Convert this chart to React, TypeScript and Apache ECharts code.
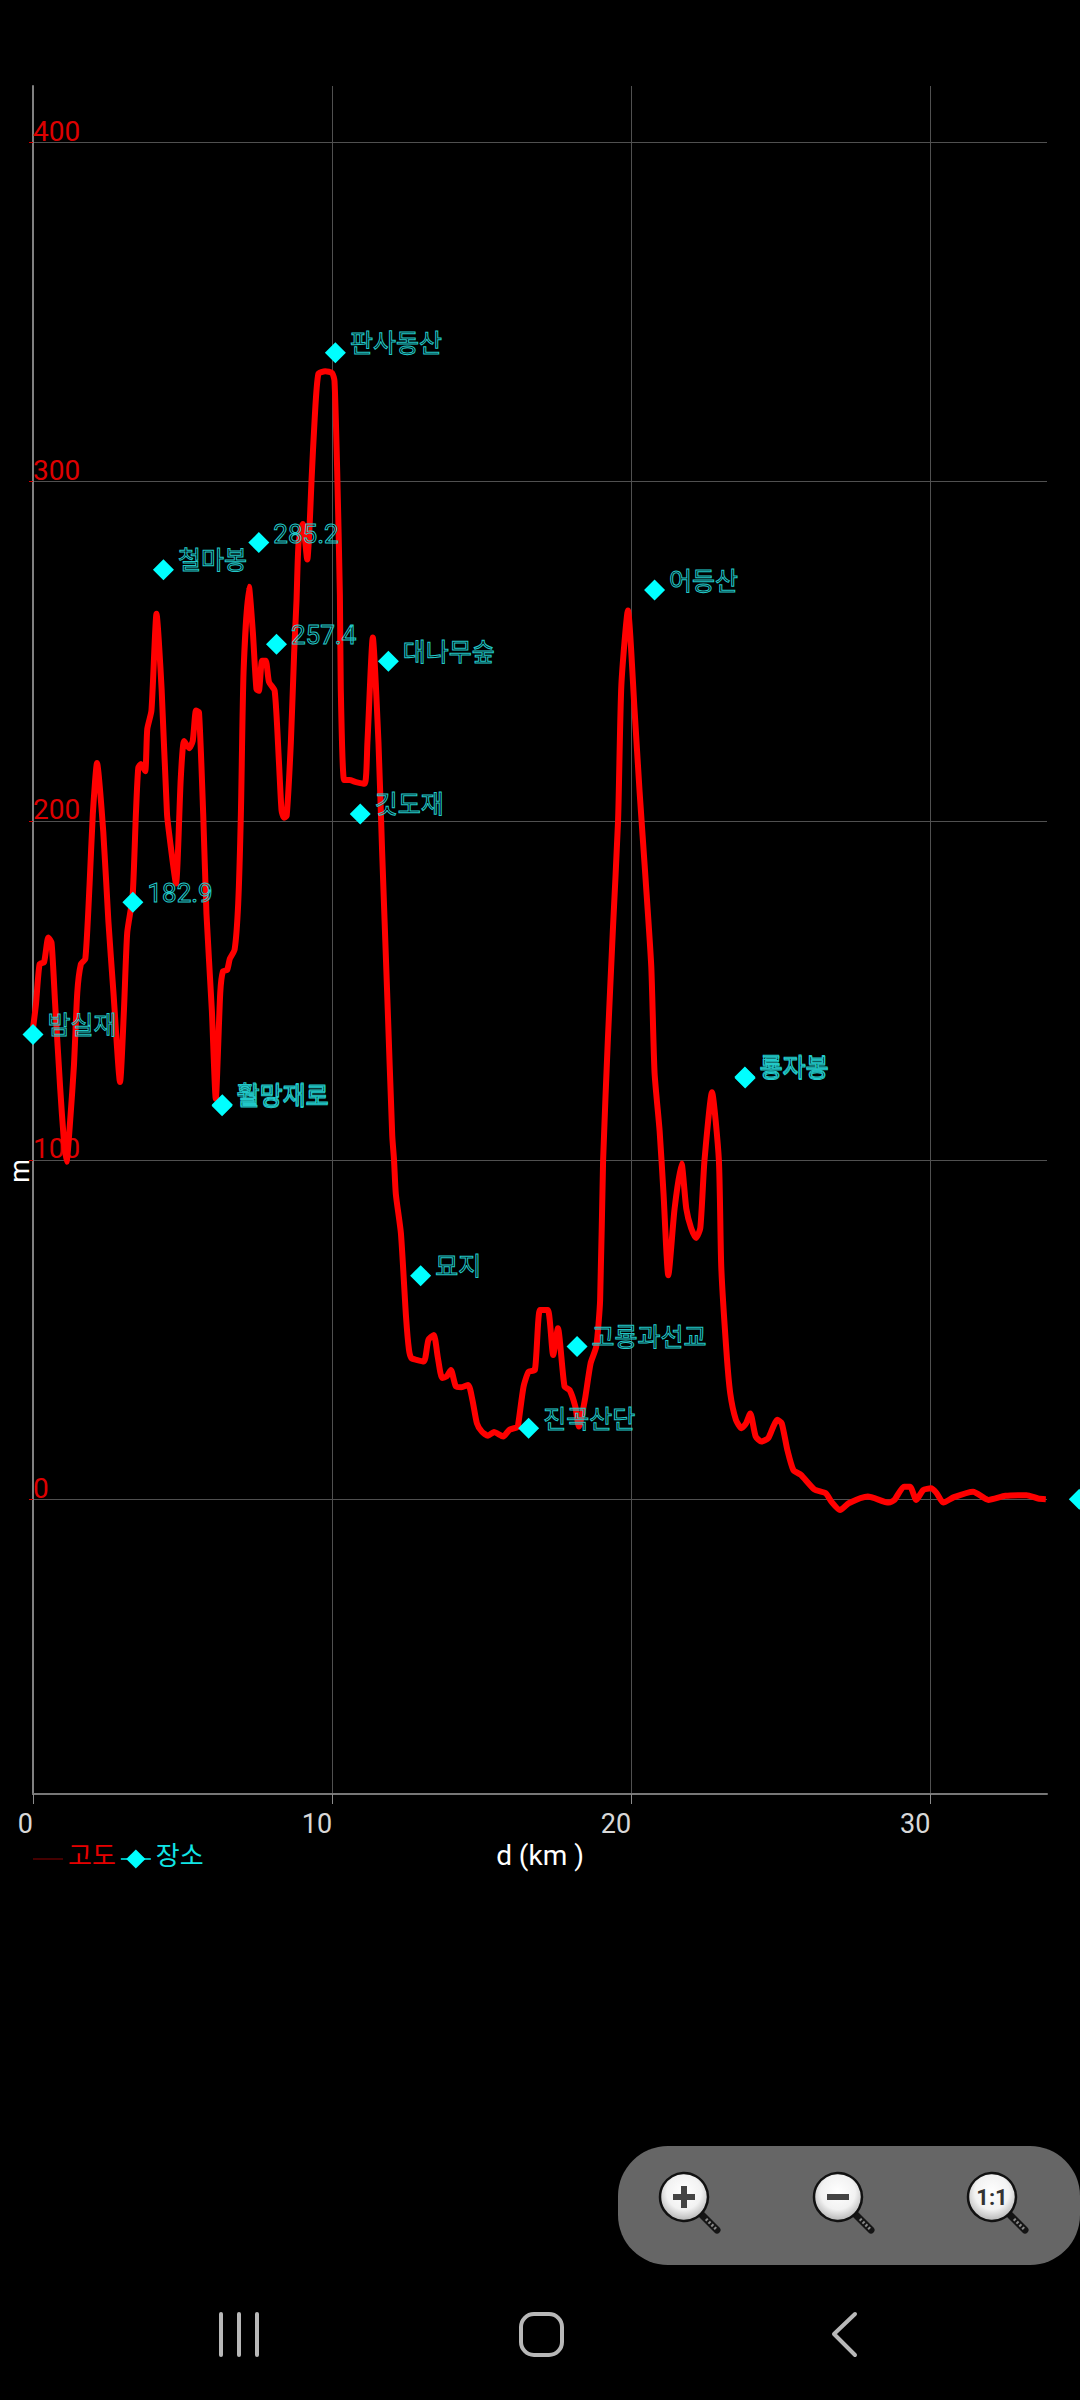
import React, { useEffect, useRef } from "react";
import * as echarts from "echarts";

const distanceKm = [0,0.1,0.22,0.37,0.51,0.62,0.74,0.91,1.03,1.12,1.25,1.37,1.48,1.6,1.75,1.89,2.0,2.14,2.35,2.52,2.69,2.91,3.04,3.15,3.33,3.44,3.52,3.61,3.75,3.82,3.96,4.13,4.3,4.48,4.59,4.78,4.94,5.05,5.22,5.34,5.45,5.55,5.69,5.8,5.98,6.11,6.26,6.35,6.49,6.58,6.74,6.86,6.95,7.04,7.22,7.35,7.47,7.55,7.66,7.78,7.89,8.08,8.22,8.31,8.39,8.48,8.62,8.73,8.81,8.88,9.02,9.17,9.25,9.31,9.42,9.54,9.77,10,10.08,10.17,10.26,10.29,10.4,10.58,10.8,11.09,11.18,11.36,11.55,11.67,11.84,12.01,12.07,12.13,12.3,12.47,12.57,12.65,12.82,13.07,13.22,13.4,13.53,13.68,13.83,13.97,14.14,14.32,14.55,14.69,14.84,15,15.21,15.41,15.72,15.93,16.16,16.21,16.4,16.57,16.78,16.95,17.21,17.39,17.55,17.77,17.94,18.13,18.25,18.45,18.64,18.83,18.96,19.06,19.22,19.39,19.56,19.67,19.89,20.11,20.28,20.48,20.67,20.78,20.95,21.08,21.24,21.45,21.68,21.84,22,22.17,22.31,22.45,22.7,22.93,23.01,23.18,23.31,23.5,23.69,23.84,23.98,24.16,24.35,24.58,24.75,24.88,25.03,25.22,25.42,25.67,26.12,26.5,26.69,26.98,27.27,27.91,28.61,28.8,29.12,29.32,29.53,29.76,30.02,30.21,30.43,30.79,31.43,31.94,32.51,33.22,33.6,33.86];
const elevationM = [138.8,146,157.7,158.3,165.6,164,146,121,106,99.5,112.5,128,149.3,157.7,159.3,181,202,217,196.7,170.4,149.3,123,144,167,177.7,202,215.6,216.7,214.6,227,232.5,261,238.8,202,193.5,181.5,212.5,223.5,221.4,223.5,232.5,232,202,172.5,144,118,149.3,155.6,156,159.3,162,175.6,202,244,269,255.6,238.8,238.3,247.2,247.2,240.9,238.3,217.7,203,200.9,201.4,223,249.3,265,282,287.5,277,287.5,300,319,331.7,332.5,332,329.6,303,266.4,238.8,212,212,211.4,210.9,223,254,223,191.4,149.3,107.2,100,90,78.4,53.9,44,41.6,41.1,40.6,47,48.4,42,35.7,36.2,38.1,33.2,33,33.7,29.3,22.4,20,18.7,19.8,18.5,20.5,21.1,21.4,33.2,37.6,38.1,55.8,55.8,42.5,50.4,33.2,32.2,27.3,21.4,29.3,40,45,58.7,100,135.7,168.5,200,240,262,232.8,208.5,182.8,157,125.7,108.5,90,66,85.7,99,85.7,80,77,80,100,120,100,68.5,44,31.2,23.4,20.9,22.4,25.3,18.5,17,18,21.4,23.4,22.4,14.5,8.6,7.2,2.9,1.8,-0.7,-3.2,-1.2,0.8,-1,-0.2,3.7,3.7,-0.2,2.7,3.2,1.8,-1,0.6,2.2,-0.2,1,1.2,0.2,0];

const placeNames = ["밤실재","182.9","철마봉","월망재로","활망재로","285.2","257.4","판사동산","깃도재","대나무숲","묘지","진곡산단","고룡과선교","어등산","룡자봉","통자봉",""];
const placeKm = [0,3.34,4.36,6.32,6.33,7.55,8.14,10.11,10.94,11.88,12.96,16.57,18.19,20.78,23.8,23.81,34.98];
const placeM = [137,176,274,116,116.3,282,252,338,202,247,65.9,20.9,45,268,124.5,124.2,0];

const elevationTicks = [0,100,200,300,400];
const distanceTicks = [0,10,20,30];
const yRange = [-86.9, 416.6];
const xMax = 33.9;

const CYAN = "#00ffff";
const ICON_CENTERS = [684, 838, 992];

function magnifier(cx: number) {
  const cy = 2197;
  return [
    { type: "line", shape: { x1: cx + 18, y1: cy + 18, x2: cx + 33, y2: cy + 33 }, style: { stroke: "#151515", lineWidth: 7, lineCap: "round" } },
    { type: "line", shape: { x1: cx + 22, y1: cy + 22, x2: cx + 32, y2: cy + 32 }, style: { stroke: "#8a8a8a", lineWidth: 3, lineDash: [2, 2] } },
    {
      type: "circle",
      shape: { cx, cy, r: 24 },
      style: {
        stroke: "#111",
        lineWidth: 2.5,
        fill: {
          type: "radial", x: 0.5, y: 0.4, r: 0.6,
          colorStops: [{ offset: 0, color: "#fff" }, { offset: 0.6, color: "#f2f2f2" }, { offset: 1, color: "#b5b5b5" }],
        },
      },
    },
  ];
}

function App() {
  const ref = useRef<HTMLDivElement>(null);
  useEffect(() => {
    const chart = echarts.init(ref.current!, null, { renderer: "svg" });
    const lineData = distanceKm.map((d, i) => [d, elevationM[i]]);
    const placeData = placeKm.map((d, i) => ({
      value: [d, placeM[i]],
      label: {
        formatter: placeNames[i],
        fontSize: /^[0-9.]*$/.test(placeNames[i]) ? 26 : 25,
      },
    }));
    chart.setOption({
      animation: false,
      backgroundColor: "#000",
      grid: { left: 33, right: 33, top: 86, bottom: 606, containLabel: false },
      legend: {
        left: 33,
        top: 1840,
        itemWidth: 30,
        itemHeight: 24,
        itemGap: 4,
        padding: 0,
        selectedMode: false,
        formatter: (name: string) => (name === "고도" ? "{a|고도}" : "{b|장소}"),
        textStyle: {
          fontFamily: "'Noto Sans CJK KR'",
          fontSize: 26,
          rich: {
            a: { color: "#e60000", fontFamily: "'Noto Sans CJK KR'", fontSize: 26, padding: [0, 0, 12, 0] },
            b: { color: "#11e6e6", fontFamily: "'Noto Sans CJK KR'", fontSize: 26, padding: [0, 0, 12, 0] },
          },
        },
        data: [
          {
            name: "고도",
            icon: "path://M0,0L30,0L30,1L0,1Z",
            itemStyle: { color: "#8b0000" },
            lineStyle: { color: "#8b0000", width: 2 },
          },
          { name: "장소", lineStyle: { color: "#00b8b8", width: 2, opacity: 1 } },
        ],
      },
      xAxis: {
        type: "value",
        min: 0,
        max: xMax,
        name: "d (km )",
        nameLocation: "middle",
        nameGap: 43,
        nameTextStyle: { color: "#fff", fontFamily: "Roboto", fontSize: 28 },
        axisLine: { onZero: false, lineStyle: { color: "#777", width: 2 } },
        axisTick: { show: true, length: 10, customValues: distanceTicks, lineStyle: { color: "#8c8c8c", width: 1 } },
        axisLabel: {
          customValues: distanceTicks,
          color: "#d8d8d8",
          fontFamily: "Roboto",
          fontSize: 27,
          align: "right",
          margin: 16,
          formatter: (v: number) => String(v),
        },
        splitLine: { show: true, lineStyle: { color: "#505050", width: 1 } },
      },
      yAxis: {
        type: "value",
        min: yRange[0],
        max: yRange[1],
        axisLine: { onZero: false, lineStyle: { color: "#808080", width: 2 } },
        axisTick: { show: true, length: 4, customValues: elevationTicks, lineStyle: { color: "#d00000", width: 1 } },
        axisLabel: {
          customValues: elevationTicks,
          inside: true,
          color: "#dd0000",
          fontFamily: "Roboto",
          fontSize: 28,
          margin: 0,
          lineHeight: 22,
          verticalAlign: "bottom",
          align: "left",
          formatter: (v: number) => String(v),
        },
        splitLine: { show: true, lineStyle: { color: "#505050", width: 1 } },
      },
      series: [
        {
          name: "고도",
          type: "line",
          data: lineData,
          symbol: "none",
          smooth: 0.2,
          lineStyle: { color: "#ff0000", width: 6, join: "round" },
          itemStyle: { color: "#ff0000" },
          z: 3,
        },
        {
          name: "장소",
          type: "line",
          data: placeData,
          symbol: "diamond",
          symbolSize: 21,
          clip: false,
          lineStyle: { width: 0, opacity: 0 },
          itemStyle: { color: CYAN },
          label: {
            show: true,
            position: "right",
            distance: 4,
            offset: [0, -9],
            fontFamily: "Roboto, 'Noto Sans CJK KR'",
            color: "rgba(0,0,0,0)",
            textBorderColor: "#22c8c8",
            textBorderWidth: 1,
          },
          z: 5,
        },
      ],
      graphic: {
        elements: [
          {
            type: "text",
            x: 20,
            y: 1171,
            rotation: Math.PI / 2,
            style: { text: "m", fill: "#fff", fontFamily: "Roboto", fontSize: 27, textAlign: "center", textVerticalAlign: "middle" },
          },
          { type: "rect", shape: { x: 618, y: 2146, width: 462, height: 119, r: 50 }, style: { fill: "#666666" } },
          ...ICON_CENTERS.flatMap(magnifier),
          { type: "rect", shape: { x: 673, y: 2194, width: 22, height: 6 }, style: { fill: "#444" } },
          { type: "rect", shape: { x: 681, y: 2186, width: 6, height: 22 }, style: { fill: "#444" } },
          { type: "rect", shape: { x: 827, y: 2194, width: 22, height: 6 }, style: { fill: "#444" } },
          {
            type: "text",
            x: 992,
            y: 2197,
            style: { text: "1:1", fill: "#333", fontFamily: "Roboto", fontWeight: "bold", fontSize: 22, textAlign: "center", textVerticalAlign: "middle" },
          },
          { type: "line", shape: { x1: 221, y1: 2314, x2: 221, y2: 2355 }, style: { stroke: "#b8b8b8", lineWidth: 4, lineCap: "round" } },
          { type: "line", shape: { x1: 239, y1: 2314, x2: 239, y2: 2355 }, style: { stroke: "#b8b8b8", lineWidth: 4, lineCap: "round" } },
          { type: "line", shape: { x1: 257, y1: 2314, x2: 257, y2: 2355 }, style: { stroke: "#b8b8b8", lineWidth: 4, lineCap: "round" } },
          { type: "rect", shape: { x: 521, y: 2314, width: 41, height: 41, r: 13 }, style: { fill: "none", stroke: "#b8b8b8", lineWidth: 4 } },
          { type: "polyline", shape: { points: [[855, 2314], [834, 2334], [855, 2355]] }, style: { fill: "none", stroke: "#b8b8b8", lineWidth: 4, lineCap: "round", lineJoin: "round" } },
        ],
      },
    });
    return () => chart.dispose();
  }, []);
  return <div ref={ref} style={{ position: "absolute", left: 0, top: 0, width: 1080, height: 2400, background: "#000" }} />;
}

export default App;
